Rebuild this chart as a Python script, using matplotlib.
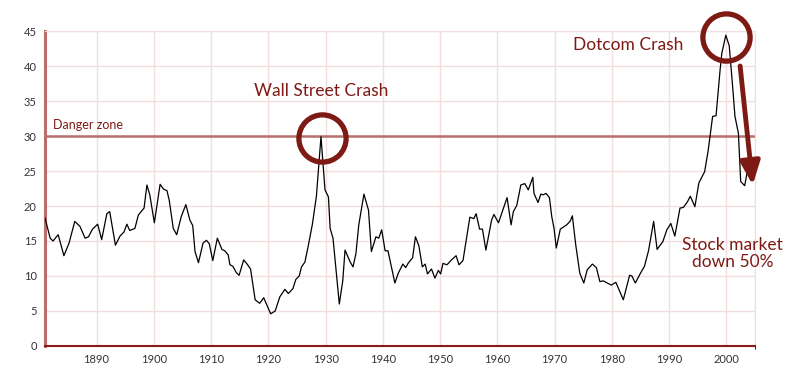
import matplotlib
matplotlib.use('Agg')
from matplotlib import pyplot as plt

# Shiller P/E ratio
years = [1881.0, 1881.9, 1882.4, 1883.3, 1884.3, 1885.2, 1886.2, 1887.1, 1888.0, 1888.6,
         1889.3, 1890.2, 1890.9, 1891.8, 1892.3, 1893.3, 1894.1, 1894.8, 1895.3, 1895.8,
         1896.7, 1897.3, 1898.3, 1898.8, 1899.3, 1900.1, 1901.1, 1901.7, 1902.3, 1902.7,
         1903.4, 1904.0, 1904.8, 1905.6, 1906.3, 1906.8, 1907.2, 1907.8, 1908.6, 1909.2,
         1909.7, 1910.3, 1911.1, 1911.9, 1912.4, 1913.0, 1913.3, 1913.8, 1914.4, 1914.9,
         1915.7, 1916.3, 1916.9, 1917.7, 1918.5, 1919.2, 1920.4, 1921.2, 1922.0, 1922.9,
         1923.5, 1924.3, 1924.8, 1925.4, 1925.8, 1926.4, 1927.0, 1927.7, 1928.4, 1929.2,
         1929.9, 1930.5, 1930.8, 1931.3, 1932.4, 1933.0, 1933.4, 1934.3, 1934.8, 1935.3,
         1935.8, 1936.7, 1937.5, 1938.0, 1938.8, 1939.3, 1939.8, 1940.4, 1940.9, 1941.5,
         1942.1, 1942.7, 1943.5, 1944.0, 1944.4, 1945.2, 1945.7, 1946.3, 1946.9, 1947.4,
         1947.8, 1948.5, 1949.1, 1949.7, 1950.1, 1950.5, 1951.2, 1952.0, 1952.8, 1953.3,
         1954.0, 1955.2, 1955.9, 1956.3, 1956.9, 1957.4, 1958.0, 1959.0, 1959.4, 1960.2,
         1961.7, 1962.4, 1962.8, 1963.4, 1964.1, 1964.8, 1965.4, 1966.2, 1966.4, 1967.1,
         1967.6, 1968.0, 1968.5, 1969.1, 1969.5, 1969.9, 1970.3, 1971.0, 1972.1, 1972.7,
         1973.1, 1973.7, 1974.4, 1975.1, 1975.7, 1976.6, 1977.3, 1977.9, 1978.5, 1979.2,
         1979.9, 1980.7, 1982.0, 1983.1, 1983.5, 1984.1, 1985.0, 1985.7, 1986.4, 1987.3,
         1987.9, 1988.9, 1989.6, 1990.3, 1991.0, 1991.9, 1992.5, 1993.2, 1993.7, 1994.5,
         1995.2, 1996.2, 1996.8, 1997.6, 1998.2, 1998.6, 1998.9, 1999.2, 1999.9, 2000.5,
         2001.1, 2001.5, 2002.1, 2002.5, 2003.2, 2003.6]
pe = [18.3, 15.4, 15.0, 15.9, 12.9, 14.7, 17.8, 17.1, 15.4, 15.6,
      16.7, 17.4, 15.2, 18.9, 19.2, 14.4, 15.7, 16.3, 17.4, 16.5,
      16.8, 18.7, 19.7, 23.0, 21.6, 17.6, 23.1, 22.4, 22.2, 20.8,
      16.8, 15.9, 18.5, 20.2, 18.0, 17.2, 13.5, 11.9, 14.7, 15.1,
      14.6, 12.2, 15.4, 13.8, 13.6, 13.0, 11.6, 11.4, 10.5, 10.1,
      12.3, 11.7, 11.0, 6.6, 6.1, 6.9, 4.6, 5.0, 7.0, 8.1,
      7.5, 8.2, 9.5, 10.0, 11.3, 12.0, 14.4, 17.4, 21.4, 29.9,
      22.3, 21.3, 16.8, 15.4, 6.0, 9.3, 13.7, 12.0, 11.3, 13.2,
      17.3, 21.7, 19.4, 13.5, 15.6, 15.4, 16.6, 13.6, 13.6, 11.3,
      9.0, 10.4, 11.7, 11.2, 11.8, 12.6, 15.6, 14.3, 11.3, 11.7,
      10.3, 11.0, 9.7, 10.8, 10.3, 11.8, 11.6, 12.3, 12.9, 11.6,
      12.2, 18.4, 18.2, 18.9, 16.7, 16.7, 13.7, 18.0, 18.8, 17.6,
      21.2, 17.3, 19.2, 20.1, 23.0, 23.2, 22.3, 24.1, 21.8, 20.5,
      21.7, 21.6, 21.8, 21.2, 18.5, 16.8, 14.0, 16.7, 17.3, 17.8,
      18.6, 14.4, 10.4, 9.0, 10.9, 11.7, 11.2, 9.2, 9.3, 9.0,
      8.7, 9.1, 6.6, 10.1, 10.0, 9.0, 10.4, 11.4, 13.6, 17.8,
      13.8, 14.9, 16.6, 17.5, 15.7, 19.7, 19.8, 20.6, 21.4, 19.9,
      23.3, 24.9, 27.8, 32.8, 32.9, 36.6, 39.4, 41.8, 44.4, 42.9,
      37.0, 32.8, 30.4, 23.5, 22.9, 24.7]

danger = 30
crashes = [(1929.4, 29.7, 'Wall Street Crash'), (1999.9, 44.1, 'Dotcom Crash')]
decades = list(range(1890, 2001, 10))

dark_red = '#7d1a14'
muted_red = '#b9706b'
grid_col = '#f1dede'

plt.rcParams['font.family'] = ['Lato', 'DejaVu Sans']

fig = plt.figure(figsize=(8, 3.91), dpi=100)
ax = fig.add_axes([0.05625, 0.1151, 0.8875, 0.8056])

ax.set_xlim(1881, 2005)
ax.set_ylim(0, 45)
ax.set_xticks(decades)
ax.set_xticks([2005], minor=True)
ax.set_yticks(range(0, 46, 5))
ax.grid(True, which='both', color=grid_col, lw=1)
ax.set_axisbelow(True)
ax.tick_params(length=0, labelsize=8, colors='#333333', pad=6)

for s in ['top', 'right']:
    ax.spines[s].set_color(grid_col)
ax.spines['left'].set_color(muted_red)
ax.spines['left'].set_linewidth(2.2)
ax.spines['bottom'].set_color('#8b1a1a')
ax.spines['bottom'].set_linewidth(1.5)

ax.axhline(danger, color=muted_red, lw=1.8, zorder=2)
ax.text(1882.4, danger + 0.7, 'Danger zone', color=dark_red, fontsize=9, va='bottom')

ax.plot(years, pe, color='black', lw=0.9, zorder=3)

# circles round the two peaks
for x, y, label in crashes:
    ax.plot(x, y, marker='o', ms=34, mfc='none', mec=dark_red, mew=3.8,
            zorder=4, clip_on=False)

ax.text(1929.2, 36.4, crashes[0][2], color=dark_red, fontsize=12.5, ha='center', va='center')
ax.text(1982.8, 43.0, crashes[1][2], color=dark_red, fontsize=12.5, ha='center', va='center')
ax.text(2001.1, 13.2, 'Stock market\ndown 50%', color=dark_red, fontsize=12.5,
        ha='center', va='center', linespacing=1.1, clip_on=False)

ax.annotate('', xy=(2004.6, 23.0), xytext=(2002.4, 40.0),
            arrowprops=dict(arrowstyle='-|>,head_length=1.4,head_width=0.6',
                            color=dark_red, lw=3.5, shrinkA=0, shrinkB=0),
            annotation_clip=False, zorder=5)

plt.savefig('out.png', dpi=100)
plt.close('all')
